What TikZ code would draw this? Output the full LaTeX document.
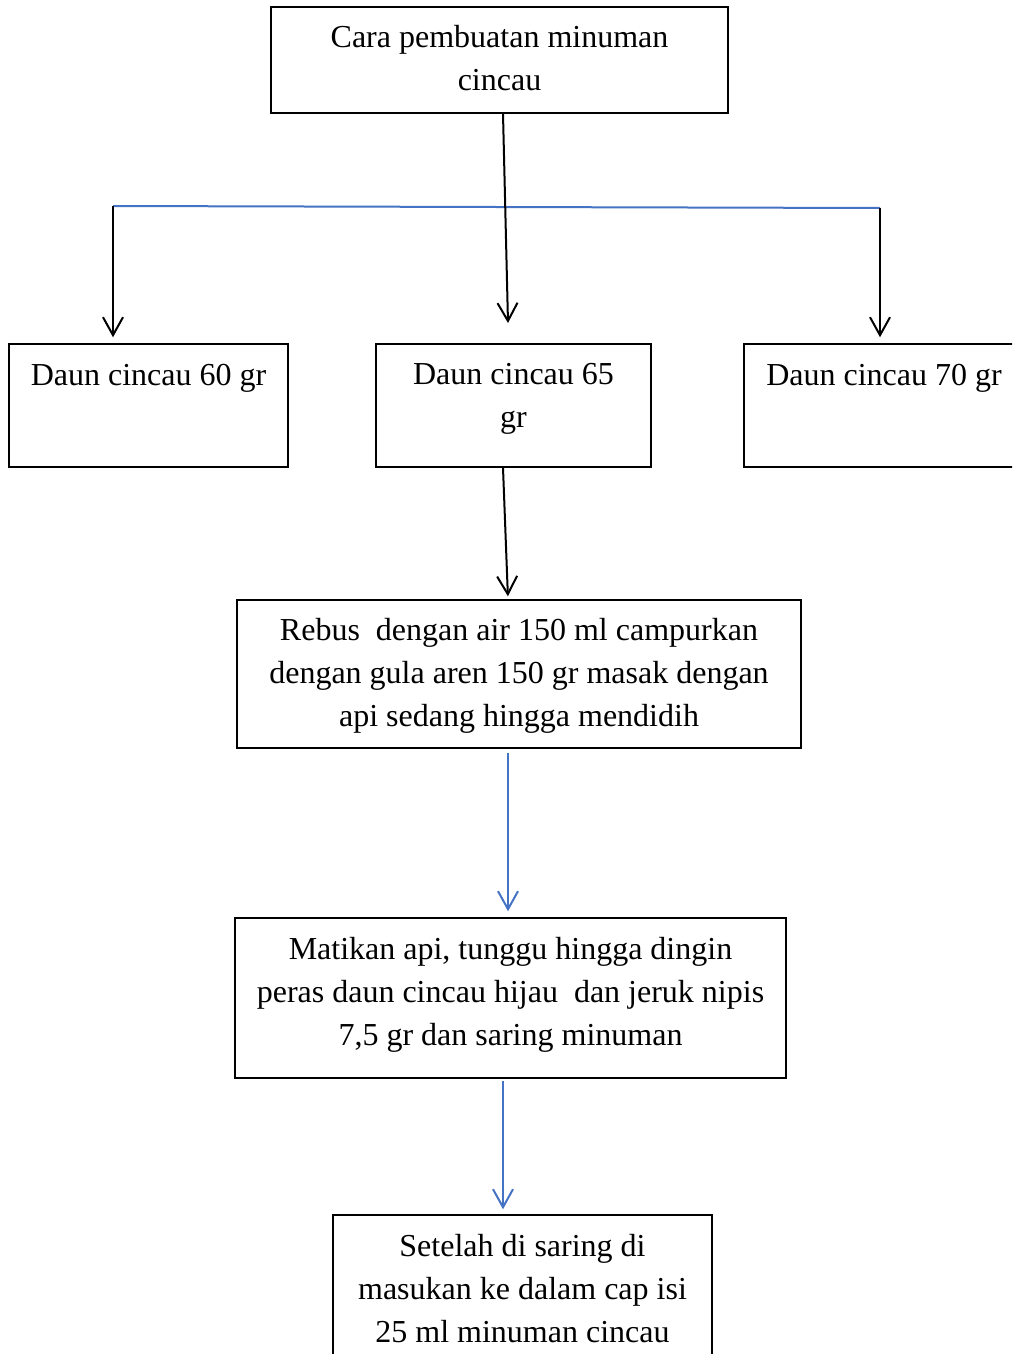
\documentclass[tikz,border=0pt]{standalone}
\usepackage{fontspec}
\setmainfont{Liberation Serif}
\usepackage{tikz}
\usetikzlibrary{arrows.meta}
\definecolor{cincaublue}{RGB}{68,114,196}

\begin{document}
\begin{tikzpicture}[x=1pt, y=-1pt, >={Straight Barb[length=18pt, width=20pt]},
    stepbox/.style={draw, line width=1.5pt, align=center, inner sep=0pt, font=\fontsize{32}{43}\selectfont},
    flow/.style={->, line width=2pt},
    blueflow/.style={flow, cincaublue}]
    \clip (0,0) rectangle (1012,1354);
    \node[stepbox, minimum width=457pt, minimum height=106pt] (cara) at (499.5,60) {Cara pembuatan minuman\\cincau\\[-39pt]\mbox{}};
    \node[stepbox, minimum width=279pt, minimum height=123pt] (daun60) at (148.5,405.5) {Daun cincau 60 gr\\[18pt]\mbox{}};
    \node[stepbox, minimum width=275pt, minimum height=123pt] (daun65) at (513.5,405.5) {Daun cincau 65\\gr\\[-22pt]\mbox{}};
    \node[stepbox, minimum width=280pt, minimum height=123pt] (daun70) at (884,405.5) {Daun cincau 70 gr\\[18pt]\mbox{}};
    \node[stepbox, minimum width=564pt, minimum height=148pt] (rebus) at (519,674) {\mbox{}\\[-17pt]Rebus~ dengan air 150 ml campurkan\\dengan gula aren 150 gr masak dengan\\api sedang hingga mendidih};
    \node[stepbox, minimum width=551pt, minimum height=160pt] (matikan) at (510.5,998) {Matikan api, tunggu hingga dingin\\peras daun cincau hijau~ dan jeruk nipis\\7,5 gr dan saring minuman\\[-30pt]\mbox{}};
    \node[stepbox, minimum width=379pt, minimum height=160pt] (setelah) at (522.5,1295) {Setelah di saring di\\masukan ke dalam cap isi\\25 ml minuman cincau\\[-29pt]\mbox{}};

    \coordinate (kiri) at (113,206);
    \coordinate (kanan) at (880,208);
    \coordinate (tengah) at (508,323);
    \draw[line width=2pt, cincaublue] (kiri) -- (kanan);
    \draw[flow] ([xshift=3.5pt]cara.south) -- (tengah);
    \draw[flow, shorten >=6pt] (kiri) -- (kiri |- daun60.north);
    \draw[flow, shorten >=6pt] (kanan) -- (kanan |- daun70.north);
    \draw[flow, shorten >=3pt] ([xshift=-10.5pt]daun65.south) -- ([xshift=-11pt]rebus.north);
    \draw[blueflow, shorten <=4pt, shorten >=6pt] ([xshift=-11pt]rebus.south) -- ([xshift=-2.5pt]matikan.north);
    \draw[blueflow, shorten <=2pt, shorten >=5pt] ([xshift=-7.5pt]matikan.south) -- ([xshift=-19.5pt]setelah.north);
\end{tikzpicture}
\end{document}
